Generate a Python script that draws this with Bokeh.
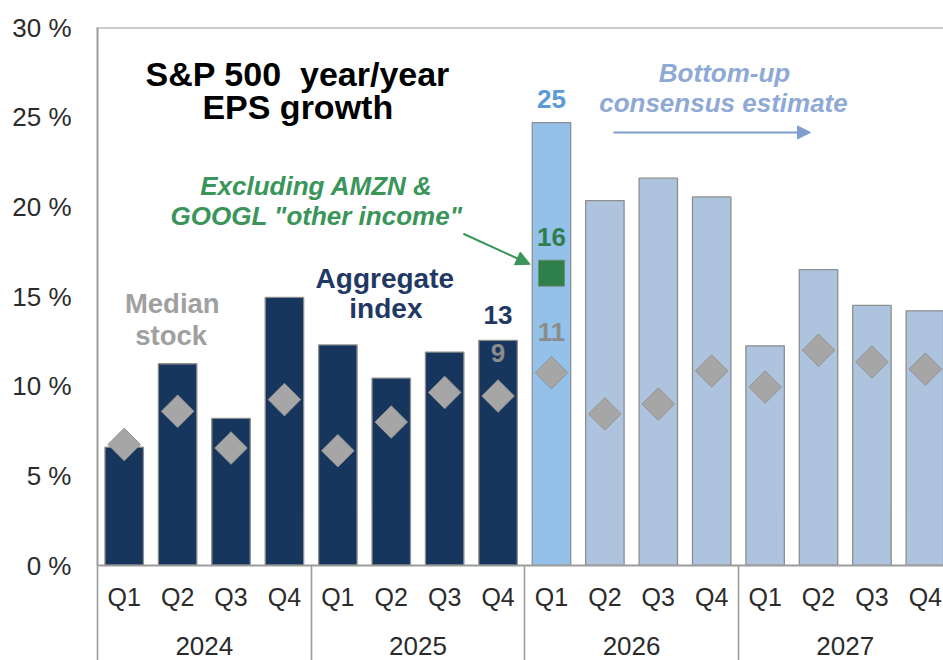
import numpy as np
from bokeh.plotting import figure
from bokeh.models import (ColumnDataSource, Range1d, FixedTicker, LinearAxis,
                          PrintfTickFormatter, Label, Arrow, NormalHead, Span)
from bokeh.embed import file_html
from bokeh.resources import INLINE

# ---------------- data ----------------
years = ["2024", "2025", "2026", "2027"]
quarters = ["Q1", "Q2", "Q3", "Q4",
            "Q1", "Q2", "Q3", "Q4",
            "Q1", "Q2", "Q3", "Q4",
            "Q1", "Q2", "Q3", "Q4"]
quarter_year = ["2024"] * 4 + ["2025"] * 4 + ["2026"] * 4 + ["2027"] * 4
aggregate = [6.6, 11.25, 8.2, 14.95,
             12.3, 10.45, 11.9, 12.55,
             24.7, 20.35, 21.6, 20.55,
             12.25, 16.5, 14.5, 14.2]
median = [6.75, 8.6, 6.55, 9.25,
          6.4, 8.0, 9.65, 9.45,
          10.75, 8.45, 9.0, 10.85,
          9.95, 12.0, 11.35, 10.95]
ex_amzn_googl_quarter = ("2026", "Q1")
ex_amzn_googl_value = 16.3

# ---------------- styling ----------------
NAVY = "#17365D"
LIGHT = "#ADC3DE"
HILITE = "#93C1E9"
GREEN = "#2F7F4A"
GRAY_D = "#A6A6A6"
FRAME = "#9C9C9C"
TXT = "#2B2B2B"
FONT = "Liberation Sans"

xs = np.arange(len(quarters))
colors = []
for q, y in zip(quarters, quarter_year):
    if y in ("2024", "2025"):
        colors.append(NAVY)
    elif (y, q) == ex_amzn_googl_quarter:
        colors.append(HILITE)
    else:
        colors.append(LIGHT)

src = ColumnDataSource(dict(x=xs, agg=aggregate, med=median, color=colors))

p = figure(width=943, height=660, output_backend="svg", toolbar_location=None,
           x_range=Range1d(-0.5, 15.34), y_range=Range1d(0, 30),
           min_border_left=97, min_border_right=0, min_border_top=27,
           min_border_bottom=95)
p.outline_line_color = None
p.xgrid.visible = False
p.ygrid.visible = False
p.background_fill_color = "white"
p.border_fill_color = "white"

# bars
p.vbar(x="x", top="agg", width=0.72, source=src, fill_color="color",
       line_color="#8E8E8E", line_width=1.3)

# median diamonds
p.scatter(x="x", y="med", source=src, marker="square", angle=np.pi / 4,
          size=23, fill_color=GRAY_D, line_color="#939393", line_width=1)

# green square (ex AMZN & GOOGL other income)
gi = [i for i, (q, y) in enumerate(zip(quarters, quarter_year))
      if (y, q) == ex_amzn_googl_quarter][0]
p.scatter(x=[xs[gi]], y=[ex_amzn_googl_value], marker="square", size=26,
          fill_color=GREEN, line_color="#6f8f77", line_width=1)

# ---------------- axes ----------------
yax = p.yaxis[0]
yax.ticker = FixedTicker(ticks=[0, 5, 10, 15, 20, 25, 30])
yax.formatter = PrintfTickFormatter(format="%d %%")
yax.major_tick_out = 0
yax.major_tick_in = 0
yax.minor_tick_out = 0
yax.minor_tick_in = 0
yax.major_label_standoff = 26
yax.major_label_text_font = FONT
yax.major_label_text_font_size = "26px"
yax.major_label_text_color = TXT
yax.axis_line_color = FRAME
yax.axis_line_width = 2

# quarter axis + year separators (as long minor ticks drawn outward)
xax = p.xaxis[0]
bounds = [-0.5, 3.5, 7.5, 11.5, 15.5]
xax.ticker = FixedTicker(ticks=list(xs), minor_ticks=bounds)
xax.major_label_overrides = {int(i): q for i, q in zip(xs, quarters)}
xax.major_tick_out = 0
xax.major_tick_in = 0
xax.minor_tick_in = -96
xax.minor_tick_out = 0
xax.minor_tick_line_color = FRAME
xax.minor_tick_line_width = 1.6
xax.major_label_standoff = 17
xax.major_label_text_font = FONT
xax.major_label_text_font_size = "25px"
xax.major_label_text_color = TXT
xax.axis_line_color = FRAME
xax.axis_line_width = 2

year_centers = [float(np.mean([x for x, yy in zip(xs, quarter_year) if yy == y]))
                for y in years]
yr_ax = LinearAxis(ticker=FixedTicker(ticks=year_centers),
                   major_label_overrides={c: y for c, y in zip(year_centers, years)})
yr_ax.major_tick_out = 0
yr_ax.major_tick_in = 0
yr_ax.minor_tick_out = 0
yr_ax.minor_tick_in = 0
yr_ax.axis_line_color = None
yr_ax.major_label_standoff = 23
yr_ax.major_label_text_font = FONT
yr_ax.major_label_text_font_size = "26px"
yr_ax.major_label_text_color = TXT
p.add_layout(yr_ax, "below")

# top frame line
p.add_layout(Span(location=30, dimension="width", line_color=FRAME, line_width=2))

# ---------------- annotations ----------------
def lab(x, y, t, size, color, style="bold", align="center"):
    p.add_layout(Label(x=x, y=y, text=t, text_font=FONT, text_font_size=size,
                       text_color=color, text_font_style=style,
                       text_align=align, text_baseline="middle"))

lab(3.25, 27.4, "S&P 500 \u00a0year/year", "34px", "#000000")
lab(3.25, 25.55, "EPS growth", "34px", "#000000")

lab(3.6, 21.15, "Excluding AMZN &", "26px", "#3A955A", "bold italic")
lab(3.6, 19.5, "GOOGL \"other income\"", "26px", "#3A955A", "bold italic")

lab(0.9, 14.6, "Median", "27.5px", "#A0A0A0")
lab(0.88, 12.85, "stock", "27.5px", "#A0A0A0")

lab(4.88, 16.0, "Aggregate", "28px", "#1F3864")
lab(4.9, 14.35, "index", "28px", "#1F3864")

lab(11.24, 27.45, "Bottom-up", "26px", "#8FA9D6", "bold italic")
lab(11.22, 25.8, "consensus estimate", "26px", "#8FA9D6", "bold italic")

# value labels tied to data
def vlabel(i, yv, color, dy):
    p.add_layout(Label(x=xs[i], y=yv, text=str(int(yv + 0.5)), y_offset=dy,
                       text_font=FONT, text_font_size="26px", text_color=color,
                       text_font_style="bold", text_align="center",
                       text_baseline="middle"))

vlabel(gi, aggregate[gi], "#5B9BD5", 24)
vlabel(gi, ex_amzn_googl_value, GREEN, 36)
vlabel(gi, median[gi], "#8C8C8C", 41)
vlabel(gi - 1, aggregate[gi - 1], "#1F3864", 25)
vlabel(gi - 1, median[gi - 1], "#8C8C8C", 43)

# arrows
p.add_layout(Arrow(x_start=6.35, y_start=18.5, x_end=7.6, y_end=16.8,
                   line_color="#3A955A", line_width=2,
                   end=NormalHead(size=14, fill_color="#3A955A",
                                  line_color="#3A955A")))
p.add_layout(Arrow(x_start=9.16, y_start=24.15, x_end=12.85, y_end=24.15,
                   line_color="#7F9ED0", line_width=2,
                   end=NormalHead(size=13, fill_color="#7F9ED0",
                                  line_color="#7F9ED0")))

open("out.html", "w").write(file_html(p, INLINE))
